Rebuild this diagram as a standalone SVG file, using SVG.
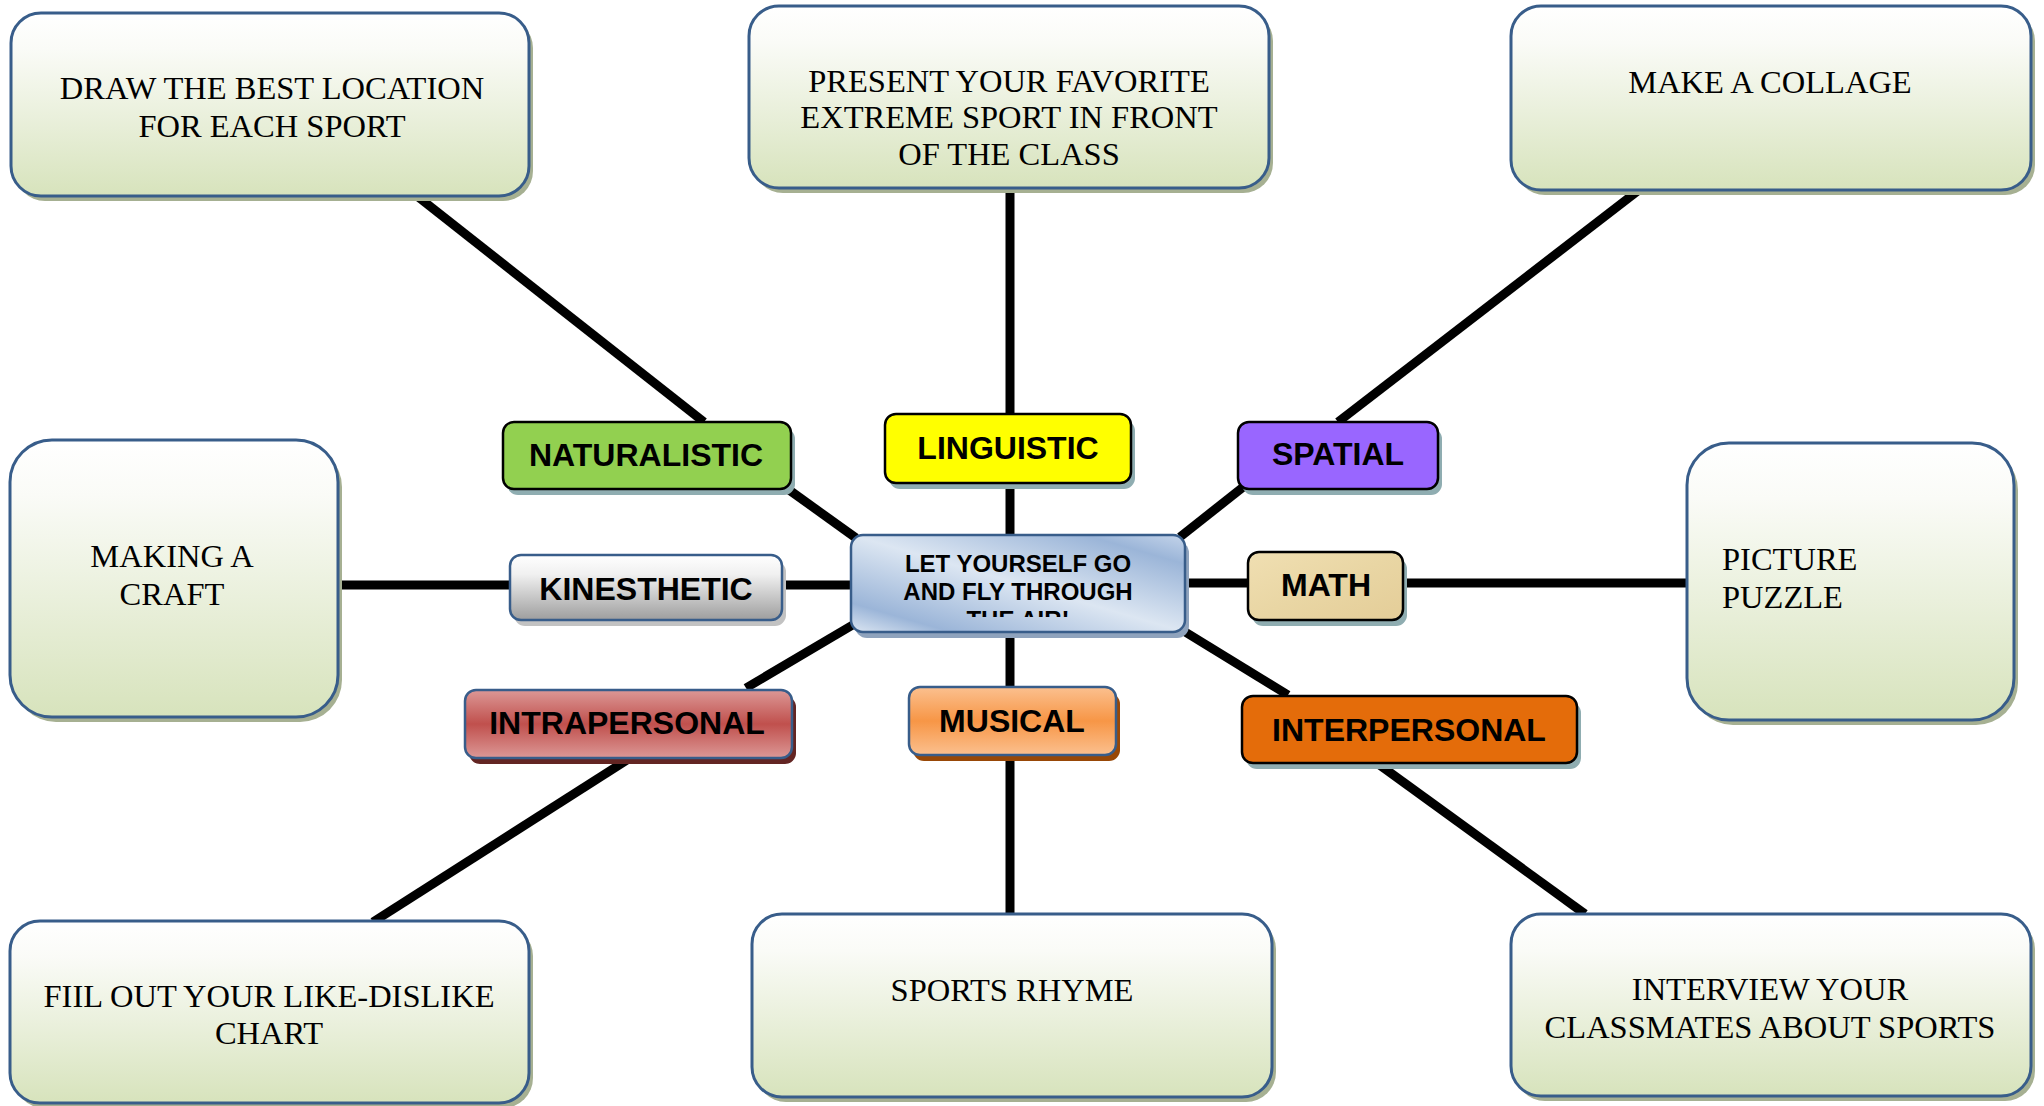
<svg xmlns="http://www.w3.org/2000/svg" width="2044" height="1106" viewBox="0 0 2044 1106">
<style>
.outer{fill:url(#gOuter);stroke:#385d8a;stroke-width:3}
.oshadow{fill:#a6b092}
.lshadow{fill:#8fadb1}
.ot{font-family:"Liberation Serif","Times New Roman",serif;font-size:32.5px;fill:#000;text-anchor:middle}
.lt{font-family:"Liberation Sans",Arial,sans-serif;font-size:32px;font-weight:bold;fill:#000;text-anchor:middle}
.lbk{stroke:#000;stroke-width:2.5}
.lbl{stroke:#385d8a;stroke-width:2.5}
.conn line{stroke:#000;stroke-width:9;stroke-linecap:butt}
</style>
<defs>
<linearGradient id="gOuter" x1="0" y1="0" x2="0" y2="1">
<stop offset="0" stop-color="#ffffff"/>
<stop offset="0.2" stop-color="#fafbf7"/>
<stop offset="1" stop-color="#d7e3bc"/>
</linearGradient>
<linearGradient id="gKin" x1="0" y1="0" x2="0" y2="1">
<stop offset="0" stop-color="#ffffff"/>
<stop offset="0.3" stop-color="#f0f0f0"/>
<stop offset="1" stop-color="#9e9e9e"/>
</linearGradient>
<linearGradient id="gIntra" x1="0" y1="0" x2="0" y2="1">
<stop offset="0" stop-color="#dc9896"/>
<stop offset="0.5" stop-color="#c0504d"/>
<stop offset="1" stop-color="#dc9896"/>
</linearGradient>
<linearGradient id="gMus" x1="0" y1="0" x2="0" y2="1">
<stop offset="0" stop-color="#fbc08f"/>
<stop offset="0.5" stop-color="#f79646"/>
<stop offset="1" stop-color="#fbc08f"/>
</linearGradient>
<linearGradient id="gMath" x1="0" y1="0" x2="1" y2="1">
<stop offset="0" stop-color="#f0dfb2"/>
<stop offset="0.5" stop-color="#e9d6a4"/>
<stop offset="1" stop-color="#e4cd98"/>
</linearGradient>
<linearGradient id="gCenter" x1="0" y1="1" x2="1" y2="0">
<stop offset="0" stop-color="#dce6f2"/>
<stop offset="0.15" stop-color="#9bb5d8"/>
<stop offset="0.5" stop-color="#dce6f2"/>
<stop offset="0.85" stop-color="#9bb5d8"/>
<stop offset="1" stop-color="#c4d4ea"/>
</linearGradient>
<clipPath id="cCenter"><rect x="851" y="535" width="334" height="82"/></clipPath>
</defs>
<rect width="2044" height="1106" fill="#ffffff"/>

<g id="connectors" class="conn">
<line x1="417" y1="196" x2="704" y2="422"/>
<line x1="785" y1="487" x2="856" y2="538"/>
<line x1="1010" y1="188" x2="1010" y2="414"/>
<line x1="1010" y1="483" x2="1010" y2="535"/>
<line x1="1639" y1="190" x2="1338" y2="422"/>
<line x1="1247" y1="484" x2="1180" y2="537"/>
<line x1="338" y1="585" x2="510" y2="585"/>
<line x1="782" y1="585" x2="851" y2="585"/>
<line x1="1185" y1="583" x2="1248" y2="583"/>
<line x1="1403" y1="583" x2="1687" y2="583"/>
<line x1="856" y1="623" x2="746" y2="688"/>
<line x1="627" y1="760" x2="373" y2="922"/>
<line x1="1010" y1="632" x2="1010" y2="687"/>
<line x1="1010" y1="755" x2="1010" y2="914"/>
<line x1="1182" y1="630" x2="1288" y2="695"/>
<line x1="1377" y1="763" x2="1585" y2="914"/>
</g>

<g id="n-draw">
<rect class="oshadow" x="15" y="18" width="518" height="183" rx="30"/>
<rect class="outer" x="11" y="13" width="518" height="183" rx="30"/>
<text class="ot" x="272" y="99">DRAW THE BEST LOCATION</text>
<text class="ot" x="272" y="137">FOR EACH SPORT</text>
</g>

<g id="n-present">
<rect class="oshadow" x="753" y="11" width="520" height="182" rx="30"/>
<rect class="outer" x="749" y="6" width="520" height="182" rx="30"/>
<text class="ot" x="1009" y="92">PRESENT YOUR FAVORITE</text>
<text class="ot" x="1009" y="128">EXTREME SPORT IN FRONT</text>
<text class="ot" x="1009" y="165">OF THE CLASS</text>
</g>

<g id="n-collage">
<rect class="oshadow" x="1515" y="11" width="520" height="184" rx="30"/>
<rect class="outer" x="1511" y="6" width="520" height="184" rx="30"/>
<text class="ot" x="1770" y="93">MAKE A COLLAGE</text>
</g>

<g id="n-craft">
<rect class="oshadow" x="14" y="445" width="328" height="277" rx="42"/>
<rect class="outer" x="10" y="440" width="328" height="277" rx="42"/>
<text class="ot" x="172" y="567">MAKING A</text>
<text class="ot" x="172" y="605">CRAFT</text>
</g>

<g id="n-puzzle">
<rect class="oshadow" x="1691" y="448" width="327" height="277" rx="42"/>
<rect class="outer" x="1687" y="443" width="327" height="277" rx="42"/>
<text class="ot" x="1722" y="570" style="text-anchor:start">PICTURE</text>
<text class="ot" x="1722" y="608" style="text-anchor:start">PUZZLE</text>
</g>

<g id="n-chart">
<rect class="oshadow" x="14" y="926" width="519" height="182" rx="30"/>
<rect class="outer" x="10" y="921" width="519" height="182" rx="30"/>
<text class="ot" x="269" y="1007">FIIL OUT YOUR LIKE-DISLIKE</text>
<text class="ot" x="269" y="1044">CHART</text>
</g>

<g id="n-rhyme">
<rect class="oshadow" x="756" y="919" width="520" height="183" rx="30"/>
<rect class="outer" x="752" y="914" width="520" height="183" rx="30"/>
<text class="ot" x="1012" y="1001">SPORTS RHYME</text>
</g>

<g id="n-interview">
<rect class="oshadow" x="1515" y="919" width="520" height="182" rx="30"/>
<rect class="outer" x="1511" y="914" width="520" height="182" rx="30"/>
<text class="ot" x="1770" y="1000">INTERVIEW YOUR</text>
<text class="ot" x="1770" y="1038">CLASSMATES ABOUT SPORTS</text>
</g>

<g id="n-naturalistic">
<rect class="lshadow" x="507" y="428" width="288" height="67" rx="11"/>
<rect class="lbk" x="503" y="422" width="288" height="67" rx="11" fill="#92d050"/>
<text class="lt" x="646" y="466">NATURALISTIC</text>
</g>

<g id="n-linguistic">
<rect class="lshadow" x="889" y="420" width="246" height="69" rx="11"/>
<rect class="lbk" x="885" y="414" width="246" height="69" rx="11" fill="#ffff00"/>
<text class="lt" x="1008" y="459">LINGUISTIC</text>
</g>

<g id="n-spatial">
<rect class="lshadow" x="1242" y="428" width="200" height="67" rx="11"/>
<rect class="lbk" x="1238" y="422" width="200" height="67" rx="11" fill="#9966ff"/>
<text class="lt" x="1338" y="465">SPATIAL</text>
</g>

<g id="n-kinesthetic">
<rect x="514" y="561" width="272" height="65" rx="11" fill="#c2c2c2"/>
<rect class="lbl" x="510" y="555" width="272" height="65" rx="11" fill="url(#gKin)"/>
<text class="lt" x="646" y="600">KINESTHETIC</text>
</g>

<g id="n-center">
<rect x="855" y="541" width="334" height="97" rx="12" fill="#8fa3bd"/>
<rect class="lbl" x="851" y="535" width="334" height="97" rx="12" fill="url(#gCenter)"/>
<g clip-path="url(#cCenter)">
<text class="lt" x="1018" y="572" style="font-size:24px">LET YOURSELF GO</text>
<text class="lt" x="1018" y="600" style="font-size:24px">AND FLY THROUGH</text>
<text class="lt" x="1018" y="628" style="font-size:24px">THE AIR!</text>
</g>
</g>

<g id="n-math">
<rect class="lshadow" x="1252" y="558" width="155" height="68" rx="11"/>
<rect class="lbk" x="1248" y="552" width="155" height="68" rx="11" fill="url(#gMath)"/>
<text class="lt" x="1326" y="596">MATH</text>
</g>

<g id="n-intrapersonal">
<rect x="469" y="696" width="327" height="68" rx="11" fill="#632523"/>
<rect class="lbl" x="465" y="690" width="327" height="68" rx="11" fill="url(#gIntra)"/>
<text class="lt" x="627" y="734">INTRAPERSONAL</text>
</g>

<g id="n-musical">
<rect x="913" y="693" width="207" height="68" rx="11" fill="#984807"/>
<rect class="lbl" x="909" y="687" width="207" height="68" rx="11" fill="url(#gMus)"/>
<text class="lt" x="1012" y="732">MUSICAL</text>
</g>

<g id="n-interpersonal">
<rect class="lshadow" x="1246" y="702" width="335" height="67" rx="11"/>
<rect class="lbk" x="1242" y="696" width="335" height="67" rx="11" fill="#e46c0a"/>
<text class="lt" x="1409" y="741">INTERPERSONAL</text>
</g>
</svg>
